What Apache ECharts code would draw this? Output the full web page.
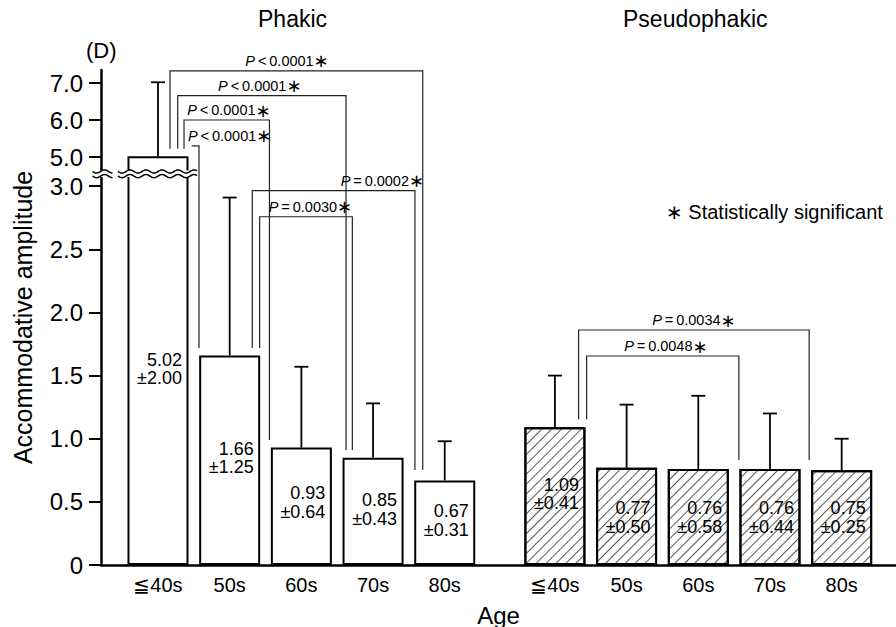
<!DOCTYPE html>
<html><head><meta charset="utf-8">
<script src="https://cdn.jsdelivr.net/npm/echarts@6/dist/echarts.min.js"></script>
<style>html,body{margin:0;padding:0;background:#fff}#c{width:896px;height:627px}</style>
</head><body><div id="c"></div>
<script>
// ---------------- data ----------------
const categories = ['≦40s', '50s', '60s', '70s', '80s'];
const groupNames = ['Phakic', 'Pseudophakic'];
const phakicMean = [5.02, 1.66, 0.93, 0.85, 0.67];
const phakicSD   = [2.00, 1.25, 0.64, 0.43, 0.31];
const pseudoMean = [1.09, 0.77, 0.76, 0.76, 0.75];
const pseudoSD   = [0.41, 0.50, 0.58, 0.44, 0.25];
const yTicks = [0, 0.5, 1.0, 1.5, 2.0, 2.5, 3.0, 5.0, 6.0, 7.0];
// significance tests: group, category a, category b, p text
const tests = [
  [0, 0, 4, '< 0.0001'],
  [0, 0, 3, '< 0.0001'],
  [0, 0, 2, '< 0.0001'],
  [0, 0, 1, '< 0.0001'],
  [0, 1, 4, '= 0.0002'],
  [0, 1, 3, '= 0.0030'],
  [1, 0, 4, '= 0.0034'],
  [1, 0, 3, '= 0.0048']
];

// ---------------- layout ----------------
const FONT = '"Liberation Sans", Arial, Helvetica, sans-serif';
const groupX = [0, 5.537];
// broken axis: values above the break are compressed
function toAxis(v) { return v <= 3 ? v : 3.231 + (v - 5) * 0.293; }
const breakAt = 3.098; // axis units
// bracket geometry per test: [leftLegOffset, rightLegOffset, leftFoot, rightFoot, level, labelX offset]
const bracketLayout = [
  [0.167, -0.307, 5.22, 0.752, 7.33, 1.80],
  [0.275, -0.377, 5.22, 0.91, 6.66, 1.42],
  [0.363, -0.445, 5.22, 0.99, 6.00, 0.99],
  [0.470, -0.428, 5.30, 1.718, 5.30, 1.00],
  [0.315, -0.416, 1.718, 0.752, 2.964, 3.13],
  [0.418, -0.289, 1.718, 0.91, 2.758, 2.127],
  [0.330, -0.453, 1.154, 0.831, 1.861, 1.939],
  [0.442, -0.434, 1.154, 0.831, 1.655, 1.548]
];
// vertical centre (value units) of the in-bar text
const textAnchor = [[1.552, 0.847, 0.495, 0.44, 0.352], [0.562, 0.376, 0.376, 0.376, 0.376]];

const means = [phakicMean, pseudoMean];
const sds = [phakicSD, pseudoSD];
const xPositions = [];
const xLabelMap = {};
groupX.forEach(function (gx) {
  categories.forEach(function (c, i) { xPositions.push(gx + i); xLabelMap[(gx + i).toFixed(3)] = c; });
});
const yTickAxis = yTicks.map(toAxis);

function barData(g) {
  return categories.map(function (c, i) { return [groupX[g] + i, toAxis(means[g][i])]; });
}
const errData = [];
const textData = [];
[0, 1].forEach(function (g) {
  categories.forEach(function (c, i) {
    errData.push([groupX[g] + i, toAxis(means[g][i]), toAxis(means[g][i] + sds[g][i])]);
    textData.push([groupX[g] + i, textAnchor[g][i], means[g][i].toFixed(2), sds[g][i].toFixed(2)]);
  });
});
const bracketData = tests.map(function (t, k) {
  const L = bracketLayout[k];
  const gx = groupX[t[0]];
  return [gx + t[1] + L[0], gx + t[2] + L[1], toAxis(L[2]), toAxis(L[3]), toAxis(L[4]), gx + L[5], k];
});

const chart = echarts.init(document.getElementById('c'), null, { renderer: 'svg' });
chart.setOption({
  animation: false,
  backgroundColor: '#fff',
  textStyle: { fontFamily: FONT, color: '#000' },
  title: [
    { text: groupNames[0], left: 258, top: 7, padding: 0, textStyle: { fontSize: 23, fontWeight: 'normal', color: '#000', fontFamily: FONT } },
    { text: groupNames[1], left: 623, top: 7, padding: 0, textStyle: { fontSize: 23, fontWeight: 'normal', color: '#000', fontFamily: FONT } },
    { text: '(D)', left: 86, top: 39, padding: 0, textStyle: { fontSize: 22, fontWeight: 'normal', color: '#000', fontFamily: FONT } },
    { text: '{a|∗} Statistically significant', left: 666, top: 202, padding: 0,
      textStyle: { fontSize: 20, fontWeight: 'normal', color: '#000', fontFamily: FONT,
        rich: { a: { fontSize: 20, fontFamily: '"DejaVu Sans", sans-serif', color: '#000' } } } }
  ],
  grid: { left: 101, right: 0, top: 70, bottom: 62, containLabel: false, outerBoundsMode: 'none' },
  xAxis: {
    type: 'value', min: -0.795, max: 10.295,
    axisLine: { onZero: false, lineStyle: { color: '#000', width: 2.5 } },
    axisTick: { show: false },
    splitLine: { show: false },
    axisLabel: {
      customValues: xPositions, margin: 10, fontSize: 20, color: '#000', fontFamily: FONT,
      formatter: function (v) { return xLabelMap[Number(v).toFixed(3)] || ''; }
    },
    name: 'Age', nameLocation: 'middle', nameGap: 38,
    nameTextStyle: { fontSize: 24, color: '#000', fontFamily: FONT }
  },
  yAxis: {
    type: 'value', min: 0, max: 3.92,
    axisLine: { show: true, onZero: false, lineStyle: { color: '#000', width: 2.5 } },
    axisTick: { show: true, length: 12, customValues: yTickAxis, lineStyle: { color: '#000', width: 2 } },
    splitLine: { show: false },
    axisLabel: {
      customValues: yTickAxis, margin: 18, fontSize: 24, color: '#000', fontFamily: FONT,
      formatter: function (v) {
        for (let i = 0; i < yTicks.length; i++) {
          if (Math.abs(yTickAxis[i] - v) < 1e-6) return yTicks[i] === 0 ? '0' : yTicks[i].toFixed(1);
        }
        return '';
      }
    },
    name: 'Accommodative amplitude', nameLocation: 'middle', nameGap: 66,
    nameTextStyle: { fontSize: 25, color: '#000', fontFamily: FONT }
  },
  series: [
    {
      type: 'bar', name: groupNames[0], data: barData(0), barWidth: 61, barGap: '-100%', z: 2,
      itemStyle: { color: '#fff', borderColor: '#000', borderWidth: 2 }
    },
    {
      type: 'bar', name: groupNames[1], data: barData(1), barWidth: 61, barGap: '-100%', z: 2,
      itemStyle: {
        color: '#fff', borderColor: '#000', borderWidth: 2,
        decal: { symbol: 'rect', symbolSize: 1, color: '#555', dashArrayX: [1, 0], dashArrayY: [1, 5.5], rotation: -Math.PI / 4 }
      }
    },
    {
      type: 'custom', name: 'sd', z: 3, data: errData,
      renderItem: function (params, api) {
        const b = api.coord([api.value(0), api.value(1)]);
        const t = api.coord([api.value(0), api.value(2)]);
        return { type: 'group', children: [
          { type: 'line', shape: { x1: b[0], y1: b[1], x2: t[0], y2: t[1] }, style: { stroke: '#000', lineWidth: 1.8 } },
          { type: 'line', shape: { x1: t[0] - 7, y1: t[1], x2: t[0] + 7, y2: t[1] }, style: { stroke: '#000', lineWidth: 1.8 } }
        ] };
      }
    },
    {
      type: 'custom', name: 'values', z: 4, data: textData,
      renderItem: function (params, api) {
        const d = textData[params.dataIndex];
        const p = api.coord([d[0], d[1]]);
        return { type: 'text', x: p[0] + 24, y: p[1],
          style: { text: d[2] + '\n±' + d[3], align: 'right', verticalAlign: 'middle',
            fontSize: 18, fontFamily: FONT, fill: '#000', lineHeight: 18.5 } };
      }
    },
    {
      type: 'custom', name: 'brackets', z: 3, data: bracketData,
      renderItem: function (params, api) {
        const d = bracketData[params.dataIndex];
        const t = tests[d[6]];
        const a = api.coord([d[0], d[2]]), b = api.coord([d[0], d[4]]);
        const c = api.coord([d[1], d[4]]), e = api.coord([d[1], d[3]]);
        const lp = api.coord([d[5], d[4]]);
        return { type: 'group', children: [
          { type: 'polyline', shape: { points: [a, b, c, e] }, style: { stroke: '#222', lineWidth: 1.2, fill: null } },
          { type: 'text', x: lp[0], y: lp[1] - 1,
            style: { text: '{i|P}{t|\u2009' + t[3].replace(' ', '\u2009') + '}{s|∗}', align: 'center', verticalAlign: 'bottom',
              fill: '#000',
              rich: {
                i: { fontStyle: 'italic', fontSize: 14.5, fontFamily: FONT, fill: '#000' },
                t: { fontSize: 14.5, fontFamily: FONT, fill: '#000' },
                s: { fontSize: 18, fontFamily: '"DejaVu Sans", sans-serif', fill: '#000', verticalAlign: 'top' }
              } } }
        ] };
      }
    },
    {
      type: 'custom', name: 'break', z: 6, data: [[groupX[0], breakAt]],
      renderItem: function (params, api) {
        const p = api.coord([api.value(0), api.value(1)]);
        const axisX = params.coordSys.x;
        const half = 30.5;
        const gap = 2.3;
        function wave(x0, x1, yc) {
          const pts = [];
          for (let x = x0; x <= x1 + 0.01; x += 1) {
            pts.push([x, yc + 1.6 * Math.sin((x - x0) / 16 * 2 * Math.PI)]);
          }
          return pts;
        }
        const segs = [[axisX - 8.5, axisX + 11.5], [p[0] - half - 9.5, p[0] + half + 8.5]];
        const children = [];
        segs.forEach(function (s) {
          children.push({ type: 'rect', shape: { x: s[0], y: p[1] - gap - 1, width: s[1] - s[0], height: 2 * gap + 2 }, style: { fill: '#fff' } });
          children.push({ type: 'polyline', shape: { points: wave(s[0], s[1], p[1] - gap) }, style: { stroke: '#000', lineWidth: 1.5, fill: null } });
          children.push({ type: 'polyline', shape: { points: wave(s[0], s[1], p[1] + gap) }, style: { stroke: '#000', lineWidth: 1.5, fill: null } });
        });
        return { type: 'group', children: children };
      }
    }
  ]
});
</script></body></html>
